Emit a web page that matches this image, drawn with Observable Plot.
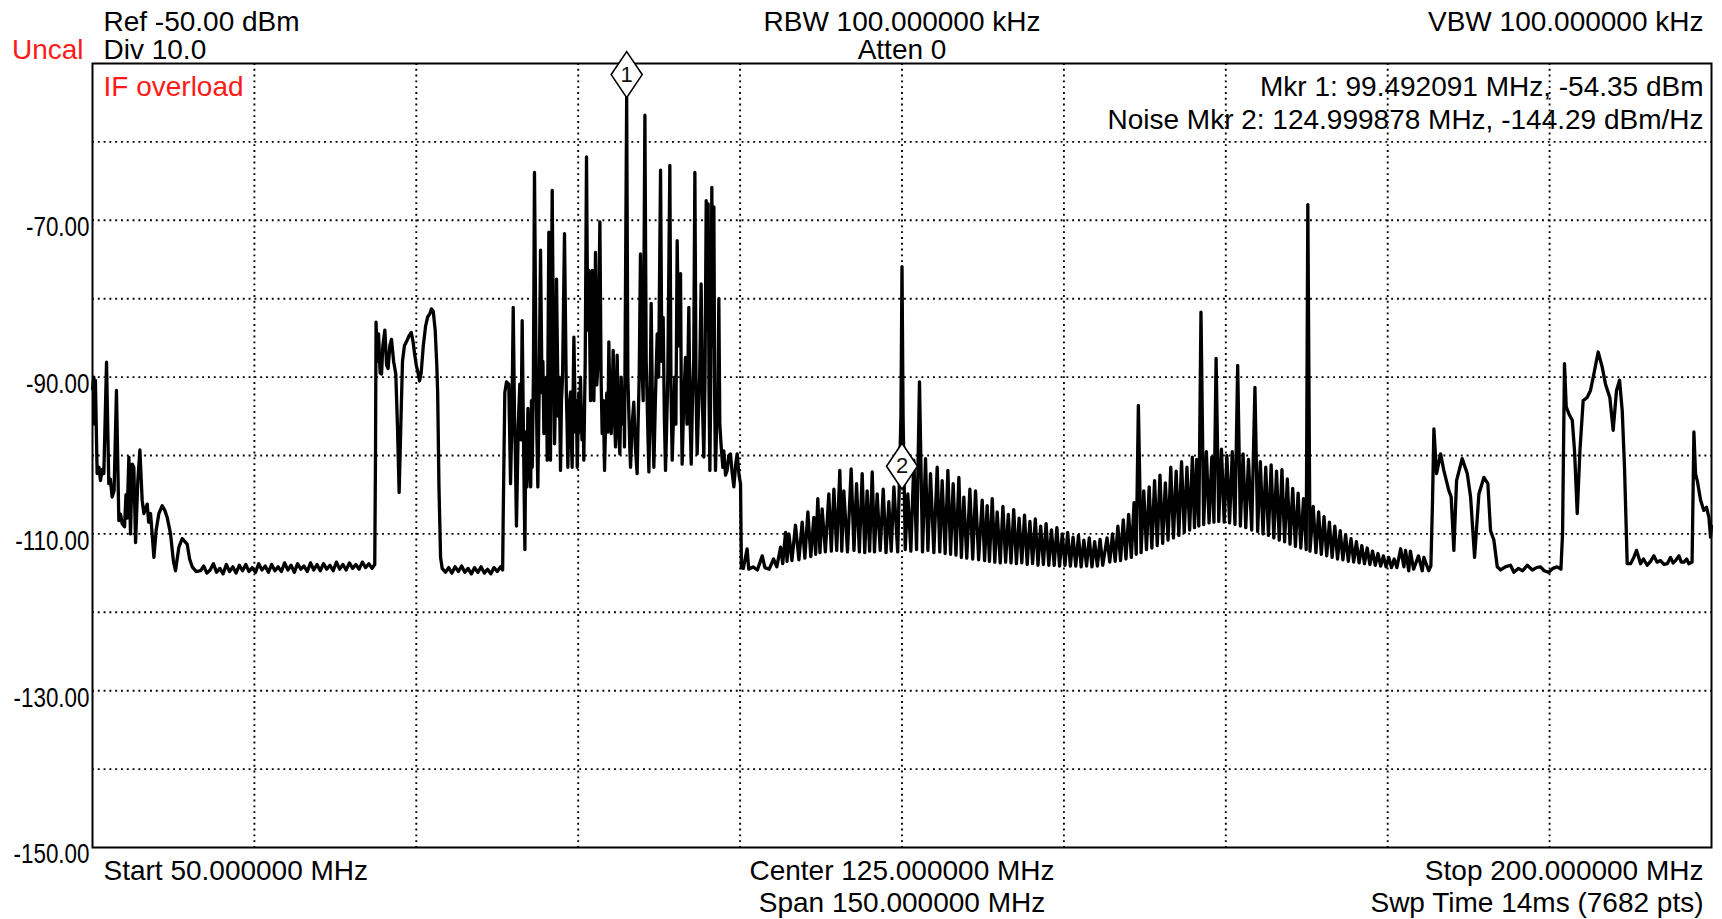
<!DOCTYPE html>
<html>
<head>
<meta charset="utf-8">
<script src="https://cdn.jsdelivr.net/npm/d3@7"></script>
<script src="https://cdn.jsdelivr.net/npm/@observablehq/plot@0.6"></script>
<style>
  html, body { margin: 0; padding: 0; background: #fff; }
  #chart { width: 1722px; height: 919px; overflow: hidden; }
</style>
</head>
<body>
<div id="chart"></div>
<script>
// ---------- DATA (frequency MHz, level dBm) ----------
const lowBand = [[50.0,-91.5],[50.12,-90.0],[50.2,-96.0],[50.27,-90.4],[50.43,-102.3],[50.6,-101.5],[50.74,-103.2],[50.9,-101.8],[51.05,-102.3],[51.3,-88.1],[51.51,-103.6],[51.65,-103.0],[51.82,-105.3],[52.0,-104.5],[52.22,-91.7],[52.44,-108.3],[52.6,-107.5],[52.75,-108.7],[52.97,-109.1],[53.1,-105.0],[53.2,-108.0],[53.37,-100.2],[53.52,-110.0],[53.68,-101.1],[53.83,-101.5],[53.99,-111.1],[54.2,-103.2],[54.39,-99.3],[54.6,-105.7],[54.76,-107.4],[55.07,-106.2],[55.2,-108.5],[55.38,-107.4],[55.69,-113.0],[55.9,-109.5],[56.15,-107.4],[56.46,-106.4],[56.7,-107.0],[56.92,-107.9],[57.23,-110.0],[57.5,-113.5],[57.69,-114.7],[58.0,-111.7],[58.31,-110.6],[58.5,-110.9],[58.77,-111.3],[59.0,-113.2],[59.24,-114.2],[59.6,-114.8],[60.01,-114.7]];
const floorA = [[60.3,-114.1],[60.6,-115.0],[60.9,-114.6],[61.2,-113.8],[61.5,-114.9],[61.8,-114.4],[62.1,-115.1],[62.4,-113.9],[62.7,-114.8],[63.0,-114.2],[63.3,-115.0],[63.6,-114.0],[63.9,-114.7],[64.2,-113.9],[64.5,-114.8],[64.8,-114.3],[65.1,-114.9],[65.4,-113.8],[65.7,-114.6],[66.0,-114.1],[66.3,-114.9],[66.6,-113.9],[66.9,-114.7],[67.2,-114.2],[67.5,-114.8],[67.8,-113.7],[68.1,-114.6],[68.4,-114.0],[68.7,-114.9],[69.0,-113.8],[69.3,-114.5],[69.6,-114.1],[69.9,-114.8],[70.2,-113.7],[70.5,-114.6],[70.8,-113.9],[71.1,-114.7],[71.4,-113.8],[71.7,-114.5],[72.0,-114.0],[72.3,-114.7],[72.6,-113.6],[72.9,-114.5],[73.2,-113.9],[73.5,-114.6],[73.8,-113.7],[74.1,-114.4],[74.4,-113.9],[74.7,-114.5],[75.0,-113.6],[75.3,-114.3],[75.6,-113.8],[75.9,-114.4],[76.15,-113.9]];
const bandB = [[76.22,-100.0],[76.27,-83.0],[76.4,-88.0],[76.5,-84.5],[76.65,-89.5],[76.78,-89.6],[76.9,-86.0],[77.09,-84.0],[77.25,-88.5],[77.39,-88.9],[77.55,-86.0],[77.7,-85.2],[77.9,-88.0],[78.1,-89.6],[78.25,-96.0],[78.41,-104.7],[78.55,-97.0],[78.72,-88.0],[78.9,-86.0],[79.12,-85.4],[79.3,-84.8],[79.53,-84.3],[79.7,-85.5],[79.84,-87.0],[80.0,-88.5],[80.14,-89.3],[80.3,-90.5],[80.45,-89.5],[80.65,-86.0],[80.86,-83.5],[81.06,-82.3],[81.26,-81.9],[81.4,-81.3],[81.57,-81.6],[81.75,-84.0],[81.9,-88.5],[81.98,-92.0],[82.1,-104.0],[82.25,-113.0],[82.4,-114.4]];
const floorB = [[82.7,-114.9],[83.0,-114.3],[83.3,-115.0],[83.6,-114.2],[83.9,-114.8],[84.2,-114.1],[84.5,-114.9],[84.8,-114.4],[85.1,-115.1],[85.4,-114.3],[85.7,-114.9],[86.0,-114.2],[86.3,-115.0],[86.6,-114.5],[86.9,-115.1],[87.2,-114.3],[87.5,-114.8],[87.8,-114.2],[88.0,-114.6]];
const bandC = [[88.05,-108.0],[88.2,-92.0],[88.36,-90.6],[88.57,-90.9],[88.73,-103.6],[88.85,-96.0],[88.98,-81.1],[89.1,-95.0],[89.18,-100.0],[89.28,-109.0],[89.45,-96.0],[89.59,-90.9],[89.7,-98.0],[89.81,-82.8],[89.95,-100.0],[90.06,-112.0],[90.15,-97.0],[90.25,-104.0],[90.34,-94.0],[90.43,-99.4],[90.6,-104.0],[90.67,-93.0],[90.74,-101.5],[90.85,-90.0],[90.95,-63.9],[91.1,-90.0],[91.18,-98.0],[91.26,-104.0],[91.38,-92.0],[91.51,-73.8],[91.65,-92.0],[91.73,-88.0],[91.82,-97.2],[92.0,-95.0],[92.06,-90.0],[92.13,-100.6],[92.28,-71.5],[92.43,-100.6],[92.59,-66.2],[92.7,-85.0],[92.81,-98.5],[92.9,-92.0],[92.99,-77.5],[93.15,-95.0],[93.25,-90.0],[93.36,-101.9],[93.45,-93.0],[93.55,-90.0],[93.73,-71.7],[93.9,-92.0],[93.97,-96.0],[94.04,-101.5],[94.15,-94.0],[94.29,-91.9],[94.36,-98.0],[94.44,-101.5],[94.6,-84.9],[94.75,-97.0],[94.83,-93.0],[94.91,-101.5],[95.05,-92.0],[95.13,-97.0],[95.21,-90.0],[95.35,-98.0],[95.44,-94.0],[95.52,-100.6],[95.65,-88.0],[95.77,-61.9],[95.88,-84.0],[95.99,-76.4],[96.14,-93.0],[96.22,-86.0],[96.3,-76.4],[96.45,-93.0],[96.52,-88.0],[96.6,-74.1],[96.72,-91.0],[96.82,-88.7],[97.01,-70.2],[97.12,-90.0],[97.22,-97.2],[97.33,-93.0],[97.44,-101.9],[97.55,-95.0],[97.65,-92.0],[97.75,-97.0],[97.84,-85.5],[97.95,-94.0],[98.06,-97.2],[98.15,-92.0],[98.24,-86.6],[98.35,-95.0],[98.46,-98.9],[98.53,-93.0],[98.61,-87.2],[98.72,-96.0],[98.86,-99.8],[98.98,-90.0],[99.08,-94.0],[99.15,-96.0],[99.22,-92.0],[99.29,-98.9],[99.49,-54.35],[99.6,-90.0],[99.7,-95.0],[99.78,-99.0],[99.85,-101.5],[100.0,-96.0],[100.15,-93.2],[100.3,-99.0],[100.46,-102.3],[100.55,-96.0],[100.65,-90.0],[100.77,-74.3],[100.9,-88.0],[101.02,-93.0],[101.18,-56.6],[101.3,-88.0],[101.39,-93.0],[101.47,-98.0],[101.55,-102.1],[101.65,-94.0],[101.76,-80.6],[101.9,-96.0],[102.01,-101.5],[102.15,-93.0],[102.32,-84.5],[102.45,-90.0],[102.63,-63.6],[102.75,-88.0],[102.87,-82.4],[102.98,-95.0],[103.09,-101.9],[103.2,-96.0],[103.3,-90.0],[103.49,-63.0],[103.6,-92.0],[103.71,-100.6],[103.83,-95.0],[103.95,-90.0],[104.05,-96.0],[104.17,-72.6],[104.3,-86.0],[104.48,-76.8],[104.56,-94.0],[104.63,-101.1],[104.78,-93.0],[104.94,-87.5],[105.08,-96.0],[105.25,-81.1],[105.36,-95.0],[105.47,-101.1],[105.6,-92.0],[105.7,-88.0],[105.81,-63.9],[105.92,-92.0],[106.02,-99.8],[106.15,-94.0],[106.25,-90.0],[106.39,-78.1],[106.52,-94.0],[106.64,-100.2],[106.75,-90.0],[106.86,-67.5],[106.95,-84.0],[107.04,-67.9],[107.12,-92.0],[107.2,-101.9],[107.3,-88.0],[107.38,-65.8],[107.48,-86.0],[107.57,-68.3],[107.65,-94.0],[107.72,-101.9],[107.85,-95.0],[107.95,-92.0],[108.03,-80.0],[108.12,-96.0],[108.25,-98.9],[108.4,-101.5],[108.49,-99.4],[108.65,-102.5],[108.8,-101.9],[108.95,-100.0],[109.11,-99.8],[109.25,-102.0],[109.42,-104.0],[109.6,-101.0],[109.73,-99.8],[109.9,-102.5],[110.04,-103.6],[110.12,-114.3]];
const combA = [[110.3,-114.4],[110.65,-111.9],[110.8,-114.5],[111.2,-114.2],[111.6,-114.6],[112.05,-112.8],[112.3,-114.3],[112.7,-114.5],[113.1,-113.2],[113.4,-114.2],[113.75,-111.7],[113.95,-113.8],[114.21,-109.8],[114.35,-113.5],[114.52,-110.0],[114.8,-113.4],[115.13,-108.9],[115.45,-113.3],[115.75,-108.5],[116.0,-113.1],[116.28,-107.2],[116.55,-112.9],[116.83,-107.9],[117.0,-112.6],[117.2,-105.5],[117.4,-112.4],[117.6,-106.8],[117.9,-112.3],[118.22,-104.9],[118.45,-112.2],[118.69,-104.3],[118.95,-112.1],[119.24,-101.9],[119.42,-112.2],[119.61,-104.5],[119.95,-112.3],[120.29,-101.7],[120.55,-112.1],[120.79,-103.6],[121.05,-112.3],[121.31,-102.3],[121.55,-112.4],[121.77,-104.5],[122.0,-112.2],[122.24,-102.1],[122.45,-112.3],[122.7,-104.9],[122.98,-112.1],[123.26,-104.3],[123.52,-112.4],[123.78,-105.9],[124.0,-112.2],[124.25,-104.0],[124.6,-112.3],[124.9,-95.0],[125.0,-75.9],[125.1,-95.0],[125.3,-112.0],[125.54,-104.9],[125.82,-112.2],[126.1,-100.6],[126.35,-112.0],[126.62,-90.6],[126.9,-112.3],[127.18,-100.4],[127.4,-112.1],[127.64,-102.3],[127.95,-112.4],[128.26,-101.5],[128.5,-112.3],[128.72,-103.2],[129.0,-112.5],[129.25,-101.9],[129.5,-112.6],[129.74,-103.6],[130.0,-112.7],[130.27,-102.8],[130.5,-113.0],[130.73,-105.3],[131.0,-113.1],[131.29,-104.3],[131.55,-113.2],[131.81,-104.5],[132.1,-113.3],[132.43,-105.7],[132.65,-113.4],[132.89,-106.4],[133.1,-113.5],[133.36,-105.5],[133.6,-113.6],[133.82,-107.2],[134.1,-113.7],[134.35,-106.5],[134.6,-113.6],[134.85,-107.5],[135.1,-113.7],[135.35,-106.9],[135.6,-113.8],[135.85,-108.0],[136.1,-113.7],[136.35,-107.6],[136.6,-113.9],[136.85,-108.4],[137.1,-113.8],[137.35,-108.1],[137.6,-114.0],[137.85,-109.0],[138.1,-113.9],[138.35,-108.7],[138.6,-114.0],[138.85,-109.5],[139.1,-114.0],[139.35,-109.2],[139.6,-114.1],[139.85,-110.0],[140.1,-114.0],[140.35,-109.8],[140.6,-114.1],[140.85,-110.4],[141.1,-114.1],[141.35,-110.2],[141.6,-114.2],[141.85,-110.8],[142.1,-114.1],[142.35,-110.5],[142.6,-114.2],[142.85,-111.0],[143.1,-114.1],[143.35,-110.7],[143.6,-114.0]];
const combB = [[144.0,-110.5],[144.25,-113.6],[144.5,-110.0],[144.75,-113.5],[145.0,-109.0],[145.25,-113.4],[145.5,-108.2],[145.75,-113.2],[146.0,-107.5],[146.25,-113.0],[146.5,-106.0],[146.7,-112.6],[146.9,-93.6],[147.15,-112.4],[147.4,-104.5],[147.65,-112.0],[147.9,-104.0],[148.15,-111.8],[148.4,-103.2],[148.65,-111.5],[148.9,-102.5],[149.15,-111.2],[149.4,-103.5],[149.65,-110.8],[149.9,-101.5],[150.15,-110.5],[150.4,-102.0],[150.65,-110.2],[150.9,-100.8],[151.15,-109.8],[151.4,-101.5],[151.65,-109.5],[151.9,-100.2],[152.1,-109.2],[152.3,-100.5],[152.5,-109.0],[152.7,-81.7],[152.95,-108.8],[153.2,-99.5],[153.45,-108.6],[153.7,-100.2],[153.9,-108.5],[154.1,-87.6],[154.35,-108.4],[154.6,-99.2],[154.85,-108.5],[155.1,-100.0],[155.35,-108.6],[155.6,-99.5],[155.85,-108.8],[156.1,-88.5],[156.35,-109.0],[156.6,-99.8],[156.85,-109.2],[157.1,-100.5],[157.4,-109.5],[157.7,-91.3],[157.95,-109.7],[158.2,-100.8],[158.45,-110.0],[158.7,-101.5],[158.95,-110.2],[159.2,-101.2],[159.45,-110.5],[159.7,-102.0],[159.95,-110.8],[160.2,-101.8],[160.45,-111.0],[160.7,-103.0],[160.95,-111.3],[161.2,-104.2],[161.45,-111.6],[161.7,-104.8],[161.95,-111.8],[162.2,-105.5],[162.45,-112.0],[162.6,-68.0],[162.8,-112.2],[163.1,-106.5],[163.35,-112.4],[163.6,-107.2],[163.85,-112.6],[164.1,-107.8],[164.35,-112.8],[164.6,-108.5],[164.85,-113.0],[165.1,-109.0],[165.35,-113.2],[165.6,-109.6],[165.85,-113.3],[166.1,-110.1],[166.35,-113.5],[166.6,-110.6],[166.85,-113.6],[167.1,-111.0],[167.35,-113.7],[167.6,-111.5],[167.85,-113.8],[168.1,-111.8],[168.35,-113.9],[168.6,-112.2],[168.85,-114.0],[169.1,-112.5],[169.35,-114.1],[169.6,-112.8],[169.85,-114.2],[170.1,-113.0],[170.35,-114.3],[170.6,-113.2],[170.85,-114.3],[171.2,-111.9],[171.5,-114.2],[171.65,-112.1],[171.95,-114.7],[172.1,-112.2],[172.4,-114.5],[172.85,-112.8],[173.2,-114.7],[173.35,-113.0],[173.8,-114.7],[174.0,-114.1]];
const bandD = [[174.15,-106.0],[174.28,-96.6],[174.53,-102.3],[174.9,-99.8],[175.2,-101.9],[175.67,-104.5],[175.88,-105.3],[176.13,-112.1],[176.38,-103.2],[176.9,-100.4],[177.37,-102.3],[177.68,-105.3],[178.05,-113.0],[178.45,-104.9],[178.91,-102.8],[179.28,-103.6],[179.53,-109.6],[179.84,-110.8],[180.15,-114.2]];
const floorC = [[180.46,-114.6],[180.9,-114.2],[181.38,-114.0],[181.69,-114.9],[182.1,-114.4],[182.5,-114.7],[182.93,-114.0],[183.4,-114.6],[183.8,-114.3],[184.16,-114.2],[184.5,-114.7],[184.93,-114.9],[185.3,-114.4],[185.7,-114.2],[186.05,-114.5]];
const bandE = [[186.2,-110.0],[186.38,-88.3],[186.54,-93.8],[186.79,-94.7],[187.1,-95.5],[187.31,-99.4],[187.56,-107.4],[187.81,-99.4],[188.11,-93.0],[188.48,-92.6],[188.79,-91.7],[189.1,-89.6],[189.5,-86.8],[189.87,-88.7],[190.18,-90.9],[190.58,-92.6],[190.89,-96.8],[191.2,-91.7],[191.48,-90.4],[191.73,-94.3],[191.94,-101.5],[192.19,-113.8]];
const floorD = [[192.5,-113.8],[192.8,-113.0],[193.06,-112.1],[193.43,-113.8],[193.7,-113.2],[194.04,-114.0],[194.35,-113.5],[194.66,-112.8],[194.95,-113.6],[195.28,-113.4],[195.6,-113.9],[195.9,-113.8],[196.2,-113.0],[196.45,-113.7],[196.67,-113.4],[196.98,-112.8],[197.2,-113.6],[197.44,-113.6],[197.7,-113.2],[197.9,-113.8],[198.2,-113.6]];
const tailBand = [[198.3,-104.0],[198.37,-97.0],[198.52,-102.3],[198.68,-103.2],[198.99,-105.7],[199.29,-107.0],[199.54,-106.6],[199.76,-107.9],[199.91,-110.4],[200.0,-109.0]];

const markerFreqs = [99.492091, 125.0];
const markerLevels = [-54.35, -104.3];
const markerNames = ["1", "2"];

const xGridValues = [65, 80, 95, 110, 125, 140, 155, 170, 185];
const yGridValues = [-60, -70, -80, -90, -100, -110, -120, -130, -140];
const yTickValues = [-70, -90, -110, -130, -150];

const headerLeft = ["Ref -50.00 dBm", "Div 10.0"];
const headerCenter = ["RBW 100.000000 kHz", "Atten 0"];
const headerRight = ["VBW 100.000000 kHz"];
const statusLeft = ["Uncal"];
const warningText = ["IF overload"];
const markerReadouts = ["Mkr 1: 99.492091 MHz, -54.35 dBm", "Noise Mkr 2: 124.999878 MHz, -144.29 dBm/Hz"];
const footerLeft = ["Start 50.000000 MHz"];
const footerCenter = ["Center 125.000000 MHz", "Span 150.000000 MHz"];
const footerRight = ["Stop 200.000000 MHz", "Swp Time 14ms (7682 pts)"];

// ---------- BUILD ----------
const trace = [].concat(lowBand, floorA, bandB, floorB, bandC, combA, combB, bandD, floorC, bandE, floorD, tailBand)
  .map(([f, l]) => ({f, l}));
const markers = markerFreqs.map((f, i) => ({f, l: markerLevels[i], name: markerNames[i]}));

const FONT = "'Liberation Sans', Arial, sans-serif";
const FS = 28;

const tallDiamond = {
  draw(ctx) {
    ctx.moveTo(0, -23);
    ctx.lineTo(15.5, 0);
    ctx.lineTo(0, 23);
    ctx.lineTo(-15.5, 0);
    ctx.closePath();
  }
};

function lines(arr, anchor, textAnchor, dx, dy0, step, color) {
  return arr.map((t, i) => Plot.text([t], {
    text: d => d, frameAnchor: anchor, textAnchor, lineAnchor: "bottom",
    dx, dy: dy0 + i * step, fontSize: FS, fontFamily: FONT, fill: color || "#000"
  }));
}

const chart = Plot.plot({
  width: 1722,
  height: 919,
  marginLeft: 92,
  marginRight: 11,
  marginTop: 63,
  marginBottom: 72,
  style: {fontFamily: FONT, background: "#fff", color: "#000", overflow: "visible"},
  x: {domain: [50, 200], axis: null},
  y: {domain: [-150, -50], axis: null},
  marks: [
    Plot.ruleX(xGridValues, {stroke: "#000", strokeWidth: 1.9, strokeDasharray: "1.9,3.9"}),
    Plot.ruleY(yGridValues, {stroke: "#000", strokeWidth: 1.9, strokeDasharray: "1.9,3.9"}),
    Plot.axisY(yTickValues, {
      label: null, tickSize: 0, tickPadding: 3, tickFormat: d => d.toFixed(2),
      fontSize: FS, fontFamily: FONT, fill: "#000", dy: 7
    }),
    ...lines(headerLeft, "top-left", "start", 11, -33, 28),
    ...lines(headerCenter, "top", "middle", 0, -33, 28),
    ...lines(headerRight, "top-right", "end", -8, -33, 28),
    ...lines(statusLeft, "top-left", "end", -9, -5, 28, "#ff1a1a"),
    ...lines(warningText, "top-left", "start", 11, 32, 28, "#ff1a1a"),
    ...lines(markerReadouts, "top-right", "end", -8, 32, 33),
    ...lines(footerLeft, "bottom-left", "start", 11, 32, 32),
    ...lines(footerCenter, "bottom", "middle", 0, 32, 32),
    ...lines(footerRight, "bottom-right", "end", -8, 32, 32),
    Plot.line(trace, {x: "f", y: "l", stroke: "#000", strokeWidth: 3.3, strokeLinejoin: "round", strokeLinecap: "round"}),
    Plot.frame({stroke: "#000", strokeWidth: 2}),
    Plot.dot(markers, {x: "f", y: "l", symbol: tallDiamond, r: 10, fill: "#fff", stroke: "#000", strokeWidth: 1.6, dy: -23}),
    Plot.text(markers, {x: "f", y: "l", text: "name", dy: -23, fontSize: 22, fontFamily: FONT, fill: "#111"})
  ]
});

document.getElementById("chart").appendChild(chart);

// Y tick labels in the reference are set in a condensed face: compress horizontally.
d3.select(chart).selectAll('g[aria-label="y-axis tick label"] text').each(function () {
  const w = this.getComputedTextLength();
  this.setAttribute("textLength", (w * 0.8).toFixed(1));
  this.setAttribute("lengthAdjust", "spacingAndGlyphs");
});
</script>
</body>
</html>
